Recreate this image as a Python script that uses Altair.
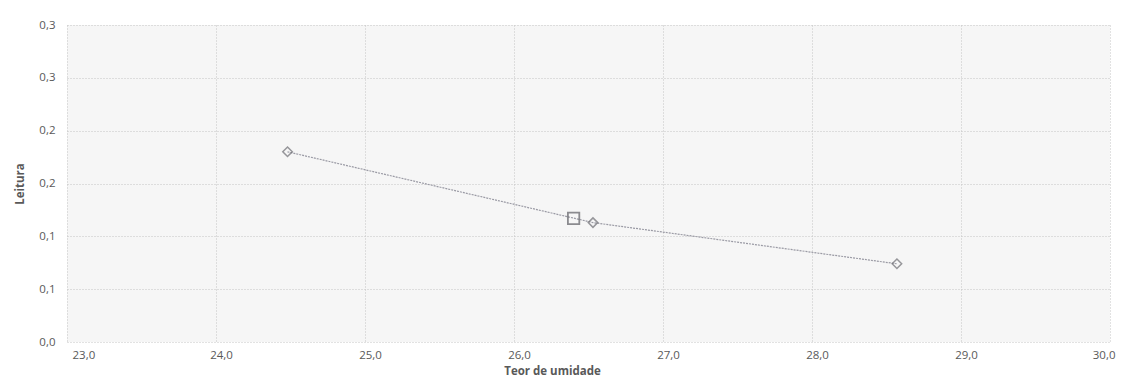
import altair as alt
import pandas as pd

# Curve points (diamonds)
teor = [24.48, 26.53, 28.57]
leitura = [0.180, 0.113, 0.074]

# Highlighted point (square)
teor_sq = [26.40]
leitura_sq = [0.117]

x_ticks = [23, 24, 25, 26, 27, 28, 29, 30]
y_ticks = [0.0, 0.05, 0.10, 0.15, 0.20, 0.25, 0.30]
y_tick_labels = ["0,0", "0,1", "0,1", "0,2", "0,2", "0,3", "0,3"]

df = pd.DataFrame({"teor": teor, "leitura": leitura})
df_sq = pd.DataFrame({"teor": teor_sq, "leitura": leitura_sq})

label_arr = "[" + ",".join("'" + s + "'" for s in y_tick_labels) + "]"
y_label_expr = label_arr + "[round(datum.value / 0.05)]"

font = "Open Sans"
txt = "#595959"

x_enc = alt.X(
    "teor:Q",
    scale=alt.Scale(domain=[23, 30], nice=False, zero=False),
    axis=alt.Axis(
        values=x_ticks,
        labelExpr="replace(format(datum.value, '.1f'), '.', ',')",
        title="Teor de umidade",
        titleFont=font, titleFontSize=11.5, titleFontWeight="bold", titleColor=txt,
        titlePadding=5, titleX=485,
        labelFont=font, labelFontSize=11.5, labelColor=txt, labelPadding=7,
        labelOffset=5,
        ticks=False, domain=False,
        grid=True, gridColor="#c4c4c4", gridDash=[1, 2], gridWidth=1,
    ),
)
y_enc = alt.Y(
    "leitura:Q",
    scale=alt.Scale(domain=[0, 0.3], nice=False),
    axis=alt.Axis(
        values=y_ticks,
        labelExpr=y_label_expr,
        title="Leitura",
        titleFont=font, titleFontSize=11.5, titleFontWeight="bold", titleColor=txt,
        titlePadding=13,
        labelFont=font, labelFontSize=11.5, labelColor=txt, labelPadding=12,
        ticks=False, domain=False,
        grid=True, gridColor="#c4c4c4", gridDash=[1, 2], gridWidth=1,
    ),
)

line = alt.Chart(df).mark_line(color="#9a9aa4", strokeWidth=1.2, strokeDash=[2, 1]).encode(
    x=x_enc, y=y_enc
)
diamonds = alt.Chart(df).mark_point(
    shape="diamond", filled=False, color="#6e6e74", strokeWidth=1.5, size=90
).encode(x=x_enc, y=y_enc)
square = alt.Chart(df_sq).mark_point(
    shape="square", filled=False, color="#5e5e64", strokeWidth=1.8, size=130
).encode(x=x_enc, y=y_enc)

chart = (
    alt.layer(line, diamonds, square)
    .properties(
        width=1043,
        height=317,
        autosize=alt.AutoSizeParams(type="none"),
        padding={"left": 59, "top": 17, "right": 10, "bottom": 45},
        background="white",
    )
    .configure_view(fill="#f6f6f6", stroke=None)
)

chart.save("out.html", embed_options={"renderer": "svg", "actions": False})
